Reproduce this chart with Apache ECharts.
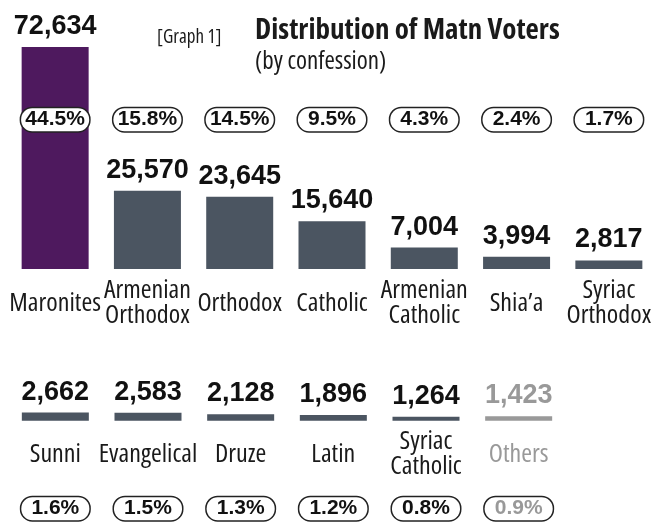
<!DOCTYPE html>
<html>
<head>
<meta charset="utf-8">
<script src="https://cdn.jsdelivr.net/npm/echarts@6/dist/echarts.min.js"></script>
<style>
  html, body { margin: 0; padding: 0; background: #fff; }
  #main { width: 655px; height: 523px; }
</style>
</head>
<body>
<div id="main"></div>
<script>
// 上排和下排的数据
let topNames = ['Maronites', 'Armenian\nOrthodox', 'Orthodox', 'Catholic', 'Armenian\nCatholic', 'Shia\u2019a', 'Syriac\nOrthodox']
let topValues = [72634, 25570, 23645, 15640, 7004, 3994, 2817]
let topPercents = ['44.5%', '15.8%', '14.5%', '9.5%', '4.3%', '2.4%', '1.7%']

let bottomNames = ['Sunni', 'Evangelical', 'Druze', 'Latin', 'Syriac\nCatholic', 'Others']
let bottomValues = [2662, 2583, 2128, 1896, 1264, 1423]
let bottomPercents = ['1.6%', '1.5%', '1.3%', '1.2%', '0.8%', '0.9%']

// 窄字体：Open Sans 的 condensed 宽度
let narrow = '"Open Sans", "Roboto Condensed", sans-serif'
let bold = '"Liberation Sans", Arial, sans-serif'

let purple = '#4e195e'
let slate = '#4b5561'
let grey = '#999999'

let maxValue = Math.max(...topValues)

function barColor(name) {
  if (name === 'Maronites') return purple
  if (name === 'Others') return grey
  return slate
}

function barData(names, values) {
  return values.map((v, i) => ({
    value: v,
    itemStyle: { color: barColor(names[i]) },
    label: { color: names[i] === 'Others' ? grey : '#111' }
  }))
}

function percentData(names, values, percents) {
  return values.map((v, i) => ({
    value: v,
    label: {
      formatter: percents[i],
      color: names[i] === 'Others' ? grey : '#111'
    }
  }))
}

function percentLabel(offsetY) {
  return {
    show: true,
    position: 'insideBottom',
    distance: 0,
    offset: [0, offsetY],
    fontFamily: bold,
    fontWeight: 'bold',
    fontSize: 21,
    lineHeight: 21,
    width: 60,
    align: 'center',
    padding: [1, 4],
    backgroundColor: '#fff',
    borderColor: '#222',
    borderWidth: 1.5,
    borderRadius: 11
  }
}

let valueLabel = {
  show: true,
  position: 'top',
  distance: 7,
  fontFamily: bold,
  fontWeight: 'bold',
  fontSize: 27,
  formatter: p => p.value.toLocaleString('en-US')
}

function catAxis(gridIndex, names, margin) {
  return {
    type: 'category',
    gridIndex: gridIndex,
    data: names,
    axisLine: { show: false },
    axisTick: { show: false },
    axisLabel: {
      interval: 0,
      margin: margin,
      verticalAlign: 'middle',
      fontStyle: 'condensed',
      fontFamily: narrow,
      fontSize: 26,
      lineHeight: 25,
      color: (v) => v === 'Others' ? grey : '#1a1a1a'
    }
  }
}

function valAxis(gridIndex) {
  return {
    type: 'value',
    gridIndex: gridIndex,
    min: 0,
    max: maxValue,
    show: false
  }
}

let myChart = echarts.init(document.getElementById('main'))

let option = {
  animation: false,
  title: [
    {
      text: '[Graph 1]',
      left: 157, top: 28, padding: 0,
      textStyle: { fontStyle: 'condensed', fontFamily: narrow, fontWeight: 'normal', fontSize: 19, color: '#1a1a1a' }
    },
    {
      text: 'Distribution of Matn Voters',
      left: 255, top: 16, padding: 0,
      textStyle: { fontStyle: 'condensed', fontFamily: narrow, fontWeight: 'bold', fontSize: 29, color: '#1a1a1a' }
    },
    {
      text: '(by confession)',
      left: 255, top: 49, padding: 0,
      textStyle: { fontStyle: 'condensed', fontFamily: narrow, fontWeight: 'normal', fontSize: 25, color: '#1a1a1a' }
    }
  ],
  grid: [
    { left: 9, width: 649, top: 47, height: 222 },
    { left: 9, width: 556, top: 198.7, height: 222 }
  ],
  xAxis: [catAxis(0, topNames, 34.5), catAxis(1, bottomNames, 33.5)],
  yAxis: [valAxis(0), valAxis(1)],
  series: [
    {
      type: 'bar',
      xAxisIndex: 0, yAxisIndex: 0,
      barWidth: 67,
      data: barData(topNames, topValues),
      label: valueLabel
    },
    {
      type: 'bar',
      xAxisIndex: 0, yAxisIndex: 0,
      barWidth: 67,
      barGap: '-100%',
      itemStyle: { color: 'rgba(0,0,0,0)' },
      data: percentData(topNames, topValues, topPercents),
      label: percentLabel(-137.8),
      z: 5
    },
    {
      type: 'bar',
      xAxisIndex: 1, yAxisIndex: 1,
      barWidth: 67,
      data: barData(bottomNames, bottomValues),
      label: valueLabel
    },
    {
      type: 'bar',
      xAxisIndex: 1, yAxisIndex: 1,
      barWidth: 67,
      barGap: '-100%',
      itemStyle: { color: 'rgba(0,0,0,0)' },
      data: percentData(bottomNames, bottomValues, bottomPercents),
      label: percentLabel(99.5),
      z: 5
    }
  ]
}

myChart.setOption(option)
</script>
</body>
</html>
